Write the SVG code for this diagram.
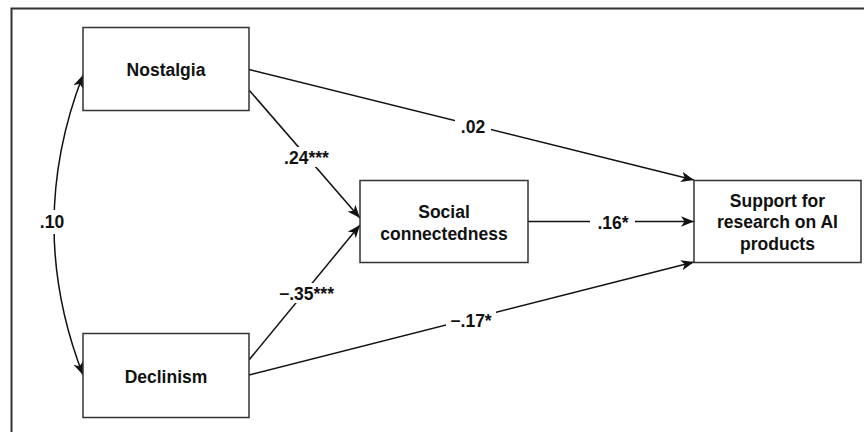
<svg xmlns="http://www.w3.org/2000/svg" width="864" height="432" viewBox="0 0 864 432">
  <style>
    .box { fill: #fff; stroke: #333; stroke-width: 1.5; }
    .lbl { font-family: "Liberation Sans", Arial, sans-serif; font-weight: bold; font-size: 17.5px; fill: #111; text-anchor: middle; }
    .edge { fill: none; stroke: #111; stroke-width: 1.5; }
    .gap { fill: #fff; stroke: none; }
  </style>
  <defs>
    <marker id="arr" markerUnits="userSpaceOnUse" markerWidth="14" markerHeight="12" refX="13" refY="6" orient="auto-start-reverse">
      <path d="M0,0.8 L13,6 L0,11.2 L3.5,6 z" fill="#111"/>
    </marker>
  </defs>
  <rect x="0" y="0" width="864" height="432" fill="#fff"/>
  <path d="M11.5,440 L11.5,8.5 L870,8.5" fill="none" stroke="#333" stroke-width="2"/>

  <g id="connectors">
    <path class="edge" d="M83,75 Q25,225 83,375" marker-start="url(#arr)" marker-end="url(#arr)"/>
    <path class="edge" d="M249,69.5 L694,180" marker-end="url(#arr)"/>
    <path class="edge" d="M249,90 L360,218" marker-end="url(#arr)"/>
    <path class="edge" d="M249,360 L360,225" marker-end="url(#arr)"/>
    <path class="edge" d="M249,375 L694,262" marker-end="url(#arr)"/>
    <path class="edge" d="M528,221.5 L694,221.5" marker-end="url(#arr)"/>
    <rect class="gap" x="38" y="210" width="30" height="24"/>
    <text class="lbl" x="52" y="228">.10</text>
    <rect class="gap" x="455" y="116" width="36" height="24"/>
    <text class="lbl" x="473" y="133">.02</text>
    <rect class="gap" x="281" y="147" width="51" height="20"/>
    <text class="lbl" x="306.5" y="163.5">.24***</text>
    <rect class="gap" x="277" y="283" width="59" height="20"/>
    <text class="lbl" x="306.5" y="299.5">−.35***</text>
    <rect class="gap" x="446" y="308" width="50" height="23"/>
    <text class="lbl" x="471" y="326.5">−.17*</text>
    <rect class="gap" x="590" y="212" width="45" height="20"/>
    <text class="lbl" x="613" y="229">.16*</text>
  </g>

  <g id="nostalgia">
    <rect class="box" x="83" y="27.5" width="166" height="83"/>
    <text class="lbl" x="166" y="76">Nostalgia</text>
  </g>
  <g id="declinism">
    <rect class="box" x="83" y="333.5" width="166" height="84"/>
    <text class="lbl" x="166" y="383">Declinism</text>
  </g>
  <g id="social">
    <rect class="box" x="360" y="180.5" width="168" height="82"/>
    <text class="lbl" x="444" y="218">Social</text>
    <text class="lbl" x="444" y="239.5">connectedness</text>
  </g>
  <g id="support">
    <rect class="box" x="694" y="180.5" width="167" height="82"/>
    <text class="lbl" x="777.5" y="206.5">Support for</text>
    <text class="lbl" x="777.5" y="228">research on AI</text>
    <text class="lbl" x="777.5" y="249.5">products</text>
  </g>
</svg>
